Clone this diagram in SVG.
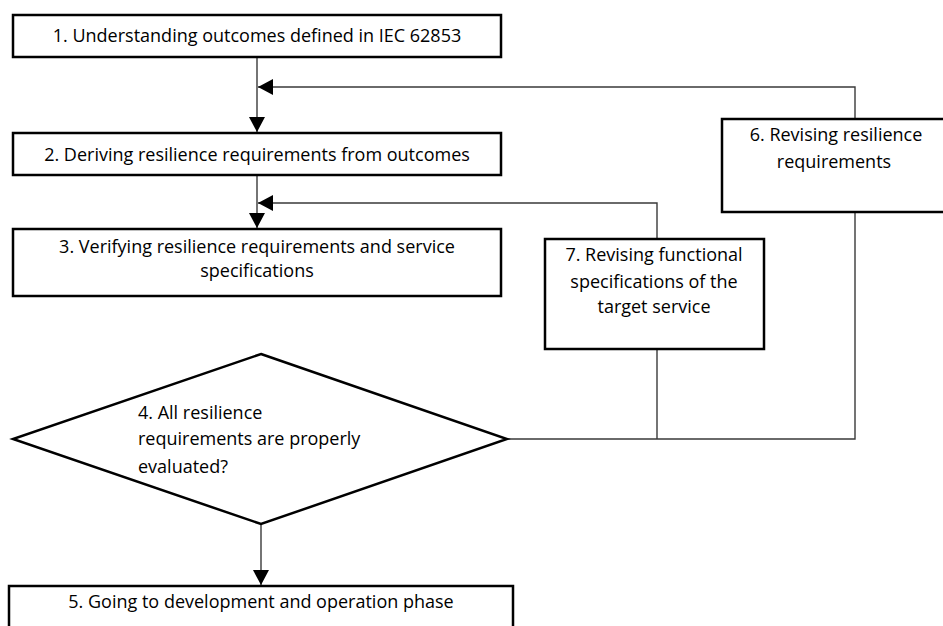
<svg xmlns="http://www.w3.org/2000/svg" width="943" height="626" viewBox="0 0 943 626">
<style>
.box{fill:#fff;stroke:#000;stroke-width:2.5}
.ln{fill:none;stroke:#3a3a3a;stroke-width:1.4}
text{font-family:"Open Sans","Liberation Sans",Arial,sans-serif;font-size:18px;fill:#000}
.c{text-anchor:middle}
</style>
<defs>
<marker id="ah" markerUnits="userSpaceOnUse" markerWidth="16" markerHeight="16" viewBox="0 0 16 16" refX="15" refY="8" orient="auto">
<path d="M0,0 L15,8 L0,16 Z" fill="#000"/>
</marker>
</defs>
<g id="connectors">
<path class="ln" d="M257,57 V132" marker-end="url(#ah)"/>
<path class="ln" d="M855,119 V87 H258" marker-end="url(#ah)"/>
<path class="ln" d="M257,175 V228" marker-end="url(#ah)"/>
<path class="ln" d="M657,239 V203 H258" marker-end="url(#ah)"/>
<path class="ln" d="M508,439 H855 V212"/>
<path class="ln" d="M657,349 V439"/>
<path class="ln" d="M261,524 V585" marker-end="url(#ah)"/>
</g>
<g id="n1">
<rect class="box" x="13" y="15" width="488" height="42"/>
<text class="c" x="257" y="42">1. Understanding outcomes defined in IEC 62853</text>
</g>
<g id="n2">
<rect class="box" x="13" y="133" width="488" height="42"/>
<text class="c" x="257" y="161">2. Deriving resilience requirements from outcomes</text>
</g>
<g id="n3">
<rect class="box" x="13" y="229" width="488" height="67"/>
<text class="c" x="257" y="253">3. Verifying resilience requirements and service</text>
<text class="c" x="257" y="277">specifications</text>
</g>
<g id="n4">
<polygon class="box" points="261,354 507,439 261,524 13,439"/>
<text x="138" y="419">4. All resilience</text>
<text x="138" y="445">requirements are properly</text>
<text x="138" y="473">evaluated?</text>
</g>
<g id="n5">
<rect class="box" x="9" y="586" width="504" height="50"/>
<text class="c" x="261" y="608">5. Going to development and operation phase</text>
</g>
<g id="n6">
<rect class="box" x="722" y="119" width="230" height="93"/>
<text class="c" x="836" y="141">6. Revising resilience</text>
<text class="c" x="834" y="168">requirements</text>
</g>
<g id="n7">
<rect class="box" x="545" y="239" width="219" height="110"/>
<text class="c" x="654" y="261">7. Revising functional</text>
<text class="c" x="654" y="288">specifications of the</text>
<text class="c" x="654" y="313">target service</text>
</g>
</svg>
